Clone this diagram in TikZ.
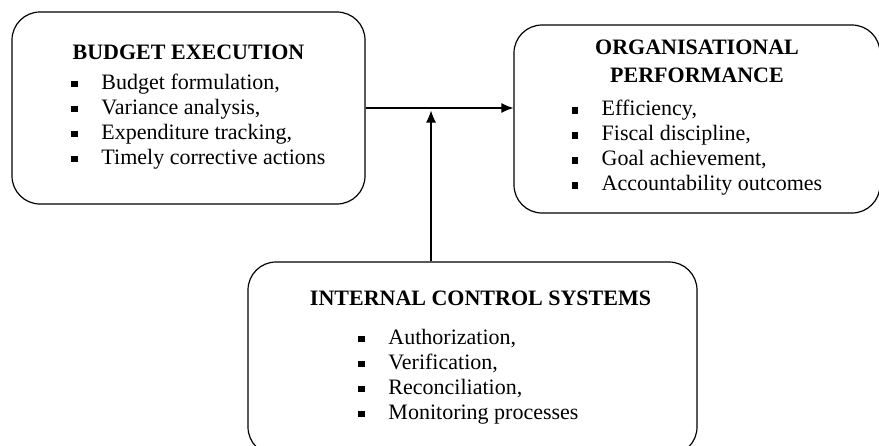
\documentclass[tikz,border=0pt]{standalone}
\usepackage{fontspec}
\setmainfont{Liberation Serif}
\usetikzlibrary{positioning,arrows.meta,calc}
\newcommand{\itm}[1]{\makebox[30pt][l]{\rule[2pt]{6.5pt}{6.5pt}}#1}

\begin{document}
\begin{tikzpicture}[x=1pt, y=-1pt,
						box/.style={draw, rounded corners=28pt, line width=1.2pt, align=center,
							font=\fontsize{22}{25}\selectfont},
						link/.style={->, line width=1.1pt},
						>={Latex[length=12pt,width=10pt]}]
	\clip (0,0) rectangle (879,445);
	\useasboundingbox (0,0) rectangle (879,445);

	\node[box, minimum width=353pt, minimum height=192pt] (budget) at (188.5,108)
		{\textbf{BUDGET EXECUTION}\\[5pt]
		\hspace*{20pt}\begin{tabular}[t]{@{}l@{}}
			\itm{Budget formulation,}\\
			\itm{Variance analysis,}\\
			\itm{Expenditure tracking,}\\
			\itm{Timely corrective actions}
		\end{tabular}};

	\node[box, minimum width=366pt, minimum height=188pt] (perf) at (697,119)
		{\textbf{ORGANISATIONAL}\\[3pt]\textbf{PERFORMANCE}\\[8pt]
		\begin{tabular}[t]{@{}l@{}}
			\itm{Efficiency,}\\
			\itm{Fiscal discipline,}\\
			\itm{Goal achievement,}\\
			\itm{Accountability outcomes}
		\end{tabular}};

	\node[box, minimum width=449pt, minimum height=193pt] (ics) at (472.5,358.5)
		{\hspace*{16pt}\textbf{INTERNAL CONTROL SYSTEMS}\\[14pt]
		\hspace*{-8pt}\begin{tabular}[t]{@{}l@{}}
			\itm{Authorization,}\\
			\itm{Verification,}\\
			\itm{Reconciliation,}\\
			\itm{Monitoring processes}
		\end{tabular}};

	\coordinate (up) at ($(ics.north)+(-41.5,0)$);

	\draw[link] (budget.east) -- (budget.east -| perf.west);
	\draw[link, shorten >=2.5pt] (up) -- (up |- budget.east);
\end{tikzpicture}
\end{document}
